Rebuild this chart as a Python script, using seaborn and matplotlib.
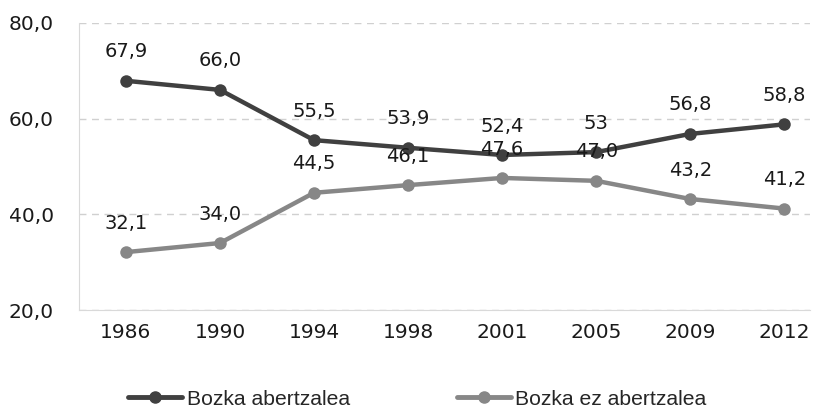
import matplotlib.pyplot as plt
import seaborn as sns
import pandas as pd

years = ['1986', '1990', '1994', '1998', '2001', '2005', '2009', '2012']
abertzale = [67.9, 66.0, 55.5, 53.9, 52.4, 53.0, 56.8, 58.8]
ez_abertzale = [32.1, 34.0, 44.5, 46.1, 47.6, 47.0, 43.2, 41.2]
abertzale_labels = ['67,9', '66,0', '55,5', '53,9', '52,4', '53', '56,8', '58,8']
ez_labels = ['32,1', '34,0', '44,5', '46,1', '47,6', '47,0', '43,2', '41,2']
series_names = ['Bozka abertzalea', 'Bozka ez abertzalea']
colors = ['#404040', '#878787']

sns.set_style('white')
plt.rcParams['font.family'] = ['DejaVu Sans']

df = pd.DataFrame({
    'year': years * 2,
    'pos': list(range(len(years))) * 2,
    'value': abertzale + ez_abertzale,
    'series': [series_names[0]] * len(years) + [series_names[1]] * len(years),
})

fig = plt.figure(figsize=(8.22, 4.09), dpi=100)
ax = fig.add_axes([0.096, 0.242, 0.889, 0.702])

sns.lineplot(data=df, x='pos', y='value', hue='series', palette=colors,
             marker='o', markersize=9, markeredgewidth=0, linewidth=3.2,
             ax=ax, legend=False)

for labels, vals in [(abertzale_labels, abertzale), (ez_labels, ez_abertzale)]:
    for i, (lab, v) in enumerate(zip(labels, vals)):
        ax.annotate(lab, (i, v), xytext=(0, 14), textcoords='offset points',
                    ha='center', va='bottom', fontsize=14, color='#1a1a1a')

ax.set_ylim(20, 80)
ax.set_yticks([20, 40, 60, 80])
ax.set_yticklabels(['20,0', '40,0', '60,0', '80,0'])
ax.set_xlim(-0.5, 7.27)
ax.set_xticks(range(len(years)))
ax.set_xticklabels(years)
ax.tick_params(axis='both', labelsize=14.5, length=0, colors='#1a1a1a')
ax.tick_params(axis='y', pad=18)
ax.tick_params(axis='x', pad=9)
ax.set_xlabel('')
ax.set_ylabel('')

ax.yaxis.grid(True, linestyle=(0, (5, 4)), color='#d0d0d0', linewidth=1)
ax.set_axisbelow(True)
for s in ['top', 'right']:
    ax.spines[s].set_visible(False)
ax.spines['left'].set_color('#d9d9d9')
ax.spines['bottom'].set_color('#d9d9d9')

handles = [plt.Line2D([0], [0], color=c, lw=3.5, marker='o', markersize=8)
           for c in colors]
fig.legend(handles, series_names, loc='center', ncol=2,
           bbox_to_anchor=(0.508, 0.024), frameon=False, borderpad=0,
           handlelength=2.55, handletextpad=0.2, columnspacing=5.1,
           prop={'family': ['Liberation Sans'], 'size': 15.2})

fig.savefig('out.png', dpi=100)
